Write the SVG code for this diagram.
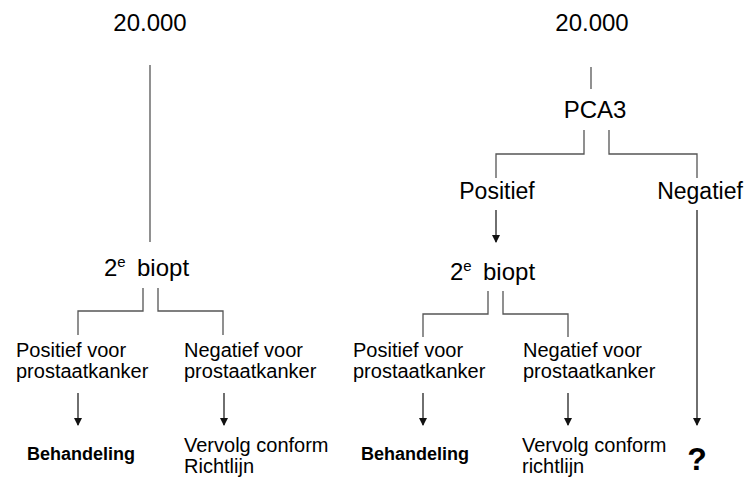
<svg xmlns="http://www.w3.org/2000/svg" width="744" height="480" viewBox="0 0 744 480">
<style>
text{font-family:"Liberation Sans",Arial,sans-serif;fill:#000}
.big{font-size:24px}
.mid{font-size:20px}
.b{font-size:18px;font-weight:bold}
.sup{font-size:15px}
.ln{fill:none;stroke:#555;stroke-width:1.3}
.ar{fill:none;stroke:#222;stroke-width:1.3;marker-end:url(#ah)}
</style>
<defs>
<marker id="ah" markerWidth="8" markerHeight="8" refX="7" refY="4" orient="auto" markerUnits="userSpaceOnUse">
<path d="M0,0 L8,4 L0,8 Z" fill="#111"/>
</marker>
</defs>
<rect width="744" height="480" fill="#fff"/>
<g id="connectors">
<line class="ln" x1="150" y1="65" x2="150" y2="242" stroke="#777"/>
<polyline class="ln" points="143,288 143,311 78,311 78,335"/>
<polyline class="ln" points="158,288 158,311 223,311 223,335"/>
<line class="ar" x1="78" y1="393" x2="78" y2="425"/>
<line class="ar" x1="224" y1="393" x2="224" y2="425"/>
<line class="ln" x1="591" y1="67" x2="591" y2="89"/>
<polyline class="ln" points="584,130 584,154 496,154 496,178"/>
<polyline class="ln" points="609,130 609,154 697,154 697,178"/>
<line class="ar" x1="496" y1="210" x2="496" y2="242"/>
<line class="ar" x1="697" y1="210" x2="697" y2="425"/>
<polyline class="ln" points="488,291 488,314 423,314 423,337"/>
<polyline class="ln" points="503,291 503,314 568,314 568,337"/>
<line class="ar" x1="423" y1="393" x2="423" y2="425"/>
<line class="ar" x1="568" y1="393" x2="568" y2="425"/>
</g>
<g id="n-left-top"><text class="big" x="150" y="31" text-anchor="middle">20.000</text></g>
<g id="n-left-biopt"><text class="big" x="104" y="276">2<tspan class="sup" dy="-9">e</tspan><tspan x="137" dy="9">biopt</tspan></text></g>
<g id="n-left-pos"><text class="mid" x="16" y="357">Positief voor</text><text class="mid" x="16" y="378">prostaatkanker</text></g>
<g id="n-left-neg"><text class="mid" x="184" y="357">Negatief voor</text><text class="mid" x="184" y="378">prostaatkanker</text></g>
<g id="n-left-beh"><text class="b" x="27" y="460">Behandeling</text></g>
<g id="n-left-verv"><text class="mid" x="184" y="452">Vervolg conform</text><text class="mid" x="184" y="473">Richtlijn</text></g>
<g id="n-right-top"><text class="big" x="592" y="31" text-anchor="middle">20.000</text></g>
<g id="n-pca3"><text class="big" x="595" y="118" text-anchor="middle">PCA3</text></g>
<g id="n-pcapos"><text class="big" x="497" y="199" text-anchor="middle" style="font-size:23px">Positief</text></g>
<g id="n-pcaneg"><text class="big" x="700" y="199" text-anchor="middle" style="font-size:23px">Negatief</text></g>
<g id="n-right-biopt"><text class="big" x="450" y="280">2<tspan class="sup" dy="-9">e</tspan><tspan x="483" dy="9">biopt</tspan></text></g>
<g id="n-right-pos"><text class="mid" x="353" y="357">Positief voor</text><text class="mid" x="353" y="378">prostaatkanker</text></g>
<g id="n-right-neg"><text class="mid" x="523" y="357">Negatief voor</text><text class="mid" x="523" y="378">prostaatkanker</text></g>
<g id="n-right-beh"><text class="b" x="361" y="460">Behandeling</text></g>
<g id="n-right-verv"><text class="mid" x="522" y="452">Vervolg conform</text><text class="mid" x="522" y="473">richtlijn</text></g>
<g id="n-q"><text x="697" y="470" text-anchor="middle" style="font-size:32px;font-weight:bold">?</text></g>
</svg>
